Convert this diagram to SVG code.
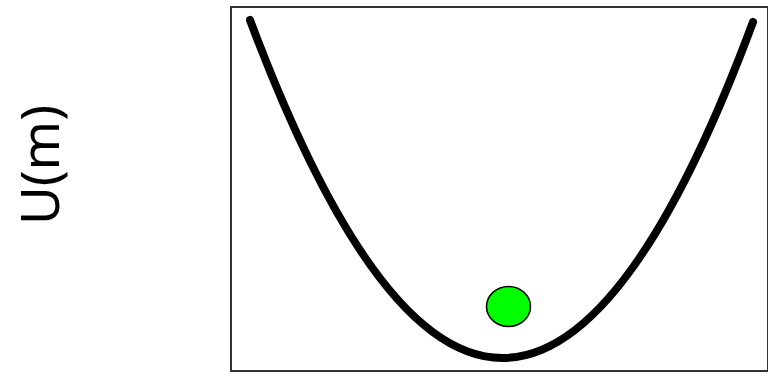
<svg xmlns="http://www.w3.org/2000/svg" width="768" height="374" viewBox="0 0 768 374">
<style>
.frame{fill:none;stroke:#333;stroke-width:2}
.curve{fill:none;stroke:#000;stroke-width:8;stroke-linecap:round}
.ball{fill:#00ff00;stroke:#000;stroke-width:1.5}
.lbl{font-family:"Noto Sans","Open Sans",sans-serif;font-size:53px;fill:#000}
</style>
<rect fill="#fff" x="0" y="0" width="768" height="374"/>
<g id="frame"><rect class="frame" x="231" y="7" width="537" height="364"/></g>
<g id="connectors"><path class="curve" d="M250,20 Q503,695 753,22"/></g>
<g id="ball"><ellipse class="ball" cx="508.5" cy="306.5" rx="22" ry="20"/></g>
<g id="label"><text class="lbl" text-anchor="middle" transform="translate(59,165) rotate(-90)">U(m)</text></g>
</svg>
